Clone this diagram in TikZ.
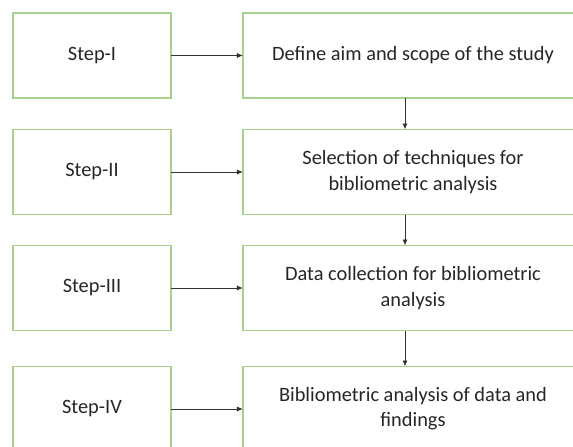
\documentclass[tikz,border=0pt]{standalone}
\usepackage{fontspec}
\setmainfont{Carlito}
\usetikzlibrary{arrows.meta}
\definecolor{boxgreen}{RGB}{169,209,142}
\definecolor{textgray}{RGB}{38,38,38}
\definecolor{linegray}{RGB}{50,50,50}
\begin{document}
\begin{tikzpicture}[x=0.03cm,y=-0.03cm,
	stepbox/.style={draw=boxgreen,line width=0.9pt,minimum width=4.74cm,minimum height=2.55cm,inner sep=0,outer sep=0,font=\fontsize{17.4}{21.5}\selectfont,text=textgray},
	taskbox/.style={stepbox,minimum width=10.2cm,align=center},
	link/.style={draw=linegray,line width=0.8pt,-{Latex[length=0.18cm,width=0.15cm]}}]
	\useasboundingbox (0,0) rectangle (573,446);
	\clip (0,0) rectangle (573,446);
	\node[stepbox] (s1) at (92,55.5) {Step-I};
	\node[stepbox] (s2) at (92,172) {Step-II};
	\node[stepbox] (s3) at (92,288) {Step-III};
	\node[stepbox] (s4) at (92,409) {Step-IV};
	\node[taskbox] (t1) at (413,55.5) {Define aim and scope of the study};
	\node[taskbox] (t2) at (413,172) {Selection of techniques for\\bibliometric analysis};
	\node[taskbox] (t3) at (413,288) {Data collection for bibliometric\\analysis};
	\node[taskbox] (t4) at (413,409) {Bibliometric analysis of data and\\findings};
	\draw[link] (s1) -- (t1);
	\draw[link] (s2) -- (t2);
	\draw[link] (s3) -- (t3);
	\draw[link] (s4) -- (t4);
	\draw[link] ([xshift=-0.24cm]t1.south) -- ([xshift=-0.24cm]t2.north);
	\draw[link] ([xshift=-0.24cm]t2.south) -- ([xshift=-0.24cm]t3.north);
	\draw[link] ([xshift=-0.24cm]t3.south) -- ([xshift=-0.24cm]t4.north);
\end{tikzpicture}
\end{document}
